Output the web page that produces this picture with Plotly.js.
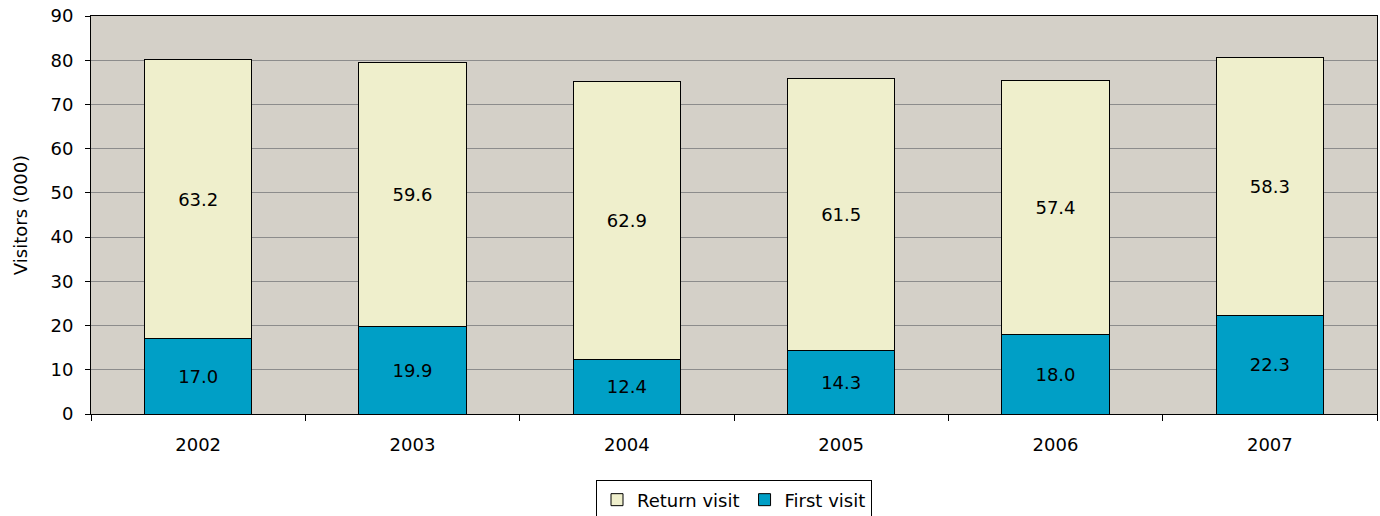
<!DOCTYPE html>
<html><head><meta charset="utf-8">
<script src="https://cdn.plot.ly/plotly-3.0.1.min.js"></script>
<style>html,body{margin:0;padding:0;background:#fff;}#chart{width:1380px;height:516px;}</style>
</head><body><div id="chart"></div>
<script>
const years = ["2002","2003","2004","2005","2006","2007"];
const firstVisit = [17.0, 19.9, 12.4, 14.3, 18.0, 22.3];
const returnVisit = [63.2, 59.6, 62.9, 61.5, 57.4, 58.3];

const fnt = {family: "DejaVu Sans, Arial, sans-serif", size: 18, color: "#000"};
const traces = [
  {type: "bar", name: "First visit", x: years, y: firstVisit,
   text: firstVisit.map(v => v.toFixed(1)), textposition: "inside", insidetextanchor: "middle",
   textfont: fnt, marker: {color: "#009FC6", line: {color: "#000", width: 1}}, hoverinfo: "skip"},
  {type: "bar", name: "Return visit", x: years, y: returnVisit,
   text: returnVisit.map(v => v.toFixed(1)), textposition: "inside", insidetextanchor: "middle",
   textfont: fnt, marker: {color: "#EFEFCC", line: {color: "#000", width: 1}}, hoverinfo: "skip"}
];
const layout = {
  width: 1380, height: 516,
  margin: {l: 91, r: 3, t: 16, b: 102, autoexpand: false},
  paper_bgcolor: "#fff", plot_bgcolor: "#D4D0C8",
  barmode: "stack", bargap: 0.5,
  font: fnt,
  xaxis: {type: "category", tickson: "boundaries", ticks: "outside", ticklen: 6, tickcolor: "#000",
          showline: true, linecolor: "#000", linewidth: 1, mirror: true, showgrid: false,
          tickfont: fnt, ticklabelstandoff: 14},
  yaxis: {range: [0, 90], dtick: 10, ticks: "outside", ticklen: 5, tickcolor: "#000",
          showline: true, linecolor: "#000", linewidth: 1, mirror: true,
          showgrid: true, gridcolor: "#8C8C8C", gridwidth: 1, zeroline: false,
          tickfont: fnt, ticklabelstandoff: 8,
          title: {text: "Visitors (000)", font: fnt, standoff: 18}},
  legend: {orientation: "h", x: 0.5, xanchor: "center", y: -0.167, yanchor: "top",
           traceorder: "reversed", bordercolor: "#000", borderwidth: 1, font: fnt, bgcolor: "#fff"},
  showlegend: true
};
Plotly.newPlot("chart", traces, layout, {displayModeBar: false, staticPlot: true});
</script></body></html>
